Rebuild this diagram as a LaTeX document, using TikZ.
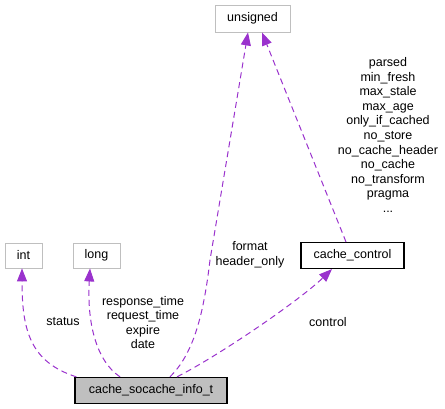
\documentclass[tikz,border=0pt]{standalone}
\usepackage{fontspec}
\setmainfont{Liberation Sans}
\usetikzlibrary{arrows.meta}
\definecolor{edgec}{HTML}{9A32CD}
\definecolor{greyc}{HTML}{BFBFBF}

\begin{document}
\begin{tikzpicture}[x=1pt, y=1pt,
        every node/.style={font=\fontsize{12.5}{14.6}\selectfont},
        ext/.style={rectangle, draw=greyc, line width=0.9pt, fill=white,
                    inner sep=0pt, minimum height=25pt},
        cls/.style={rectangle, draw=black, line width=1.1pt, fill=white,
                    inner sep=0pt, minimum height=26pt},
        top/.style={cls, line width=1.3pt, fill=greyc},
        lbl/.style={align=center, inner sep=0pt},
        arr/.style={-{Triangle[length=13pt,width=10pt]}, edgec, line width=1pt,
                    dash pattern=on 6pt off 4pt}]
      \useasboundingbox (0,0) rectangle (445,409);
      \node[ext, minimum width=37pt] (int) at (23.5,153.5) {int};
      \node[ext, minimum width=47pt] (long) at (96.5,153.5) {long};
      \node[ext, minimum width=75pt, minimum height=27pt] (uns) at (252.5,390.5) {unsigned};
      \node[cls, minimum width=103pt] (cc) at (352.5,153.5) {cache\_control};
      \node[top, minimum width=152pt] (info) at (151,18.5) {cache\_socache\_info\_t};
      % member edges
      \draw[arr] ([xshift=2pt]info.north west) .. controls (30,47) and (22,79) .. ([xshift=-1.5pt]int.south);
      \draw[arr] ([xshift=-31pt]info.north) .. controls (95,49) and (87,89) .. ([xshift=-6.5pt]long.south);
      \draw[arr] ([xshift=19pt]info.north) .. controls (192,54) and (203,89) .. (210,149) -- ([xshift=-4.5pt]uns.south);
      \draw[arr] ([xshift=-6.5pt]cc.north) -- ([xshift=9.5pt]uns.south);
      \draw[arr] ([xshift=26pt]info.north) .. controls (220,54) and (300,109) .. ([xshift=-20.5pt]cc.south);
      % labels
      \node[lbl] (lstatus) at (63,87) {status};
      \node[lbl] (llong) at (143,86.5) {response\_time\\request\_time\\expire\\date};
      \node[lbl] (lfmt) at (250,154) {format\\header\_only};
      \node[lbl] (lctl) at (328,87) {control};
      \node[lbl] (lcc) at (388,274) {parsed\\min\_fresh\\max\_stale\\max\_age\\only\_if\_cached\\no\_store\\no\_cache\_header\\no\_cache\\no\_transform\\pragma\\...};
    \end{tikzpicture}
\end{document}
